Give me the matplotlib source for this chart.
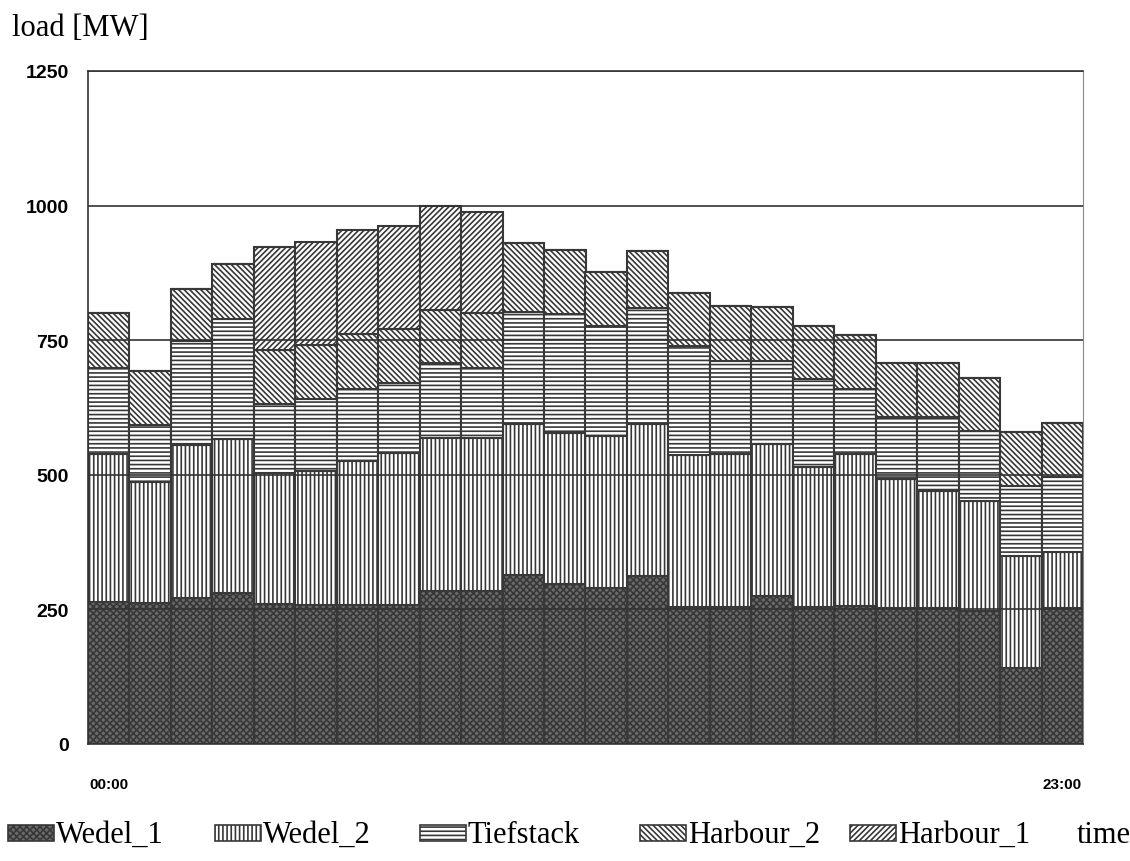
import numpy as np
import matplotlib.pyplot as plt
from matplotlib.patches import Rectangle

# hourly load per plant [MW]
hours = ['00:00', '01:00', '02:00', '03:00', '04:00', '05:00', '06:00', '07:00',
         '08:00', '09:00', '10:00', '11:00', '12:00', '13:00', '14:00', '15:00',
         '16:00', '17:00', '18:00', '19:00', '20:00', '21:00', '22:00', '23:00']
wedel_1 = [263, 262, 271, 280, 260, 258, 258, 258, 284, 284, 314, 297,
           289, 312, 255, 255, 275, 254, 257, 253, 253, 247, 142, 252]
wedel_2 = [275, 225, 284, 287, 244, 249, 267, 283, 285, 285, 280, 281,
           283, 282, 282, 284, 283, 260, 282, 239, 216, 204, 207, 105]
tiefstack = [161, 105, 193, 222, 128, 133, 135, 130, 139, 129, 208, 220,
             204, 215, 202, 172, 153, 164, 121, 115, 139, 130, 130, 138]
harbour_2 = [102, 101, 98, 102, 100, 102, 101, 100, 98, 102, 129, 119,
             101, 106, 98, 102, 100, 99, 99, 101, 100, 99, 100, 101]
harbour_1 = [0, 0, 0, 0, 191, 190, 193, 192, 194, 188, 0, 0,
             0, 0, 0, 0, 0, 0, 0, 0, 0, 0, 0, 0]

names = ['Wedel_1', 'Wedel_2', 'Tiefstack', 'Harbour_2', 'Harbour_1']
hatches = ['xxxxx', '||||', '----', '\\\\\\\\\\\\', '//////']
faces = ['#6a6a6a', 'white', 'white', 'white', 'white']
y_ticks = [0, 250, 500, 750, 1000, 1250]

plt.rcParams['hatch.linewidth'] = 1.2
edge = '#383838'

W, H = 1130, 862
fig = plt.figure(figsize=(W / 100, H / 100), dpi=100)
ax = fig.add_axes([88 / W, 1 - 745 / H, (1083 - 88) / W, (745 - 72) / H])

x = np.arange(len(hours))
bottom = np.zeros(len(hours))
for name, vals, hatch, fc in zip(names, [wedel_1, wedel_2, tiefstack, harbour_2, harbour_1], hatches, faces):
    vals = np.array(vals, dtype=float)
    ax.bar(x, vals, width=1.0, bottom=bottom, color=fc, edgecolor=edge,
           hatch=hatch, linewidth=1.5, zorder=2)
    bottom += vals

for yv in y_ticks:
    ax.axhline(yv, color='#333333', lw=1.2, zorder=3)

ax.set_xlim(-0.5, len(hours) - 0.5)
ax.set_ylim(0, 1250)
ax.set_yticks(y_ticks)
ax.set_yticklabels([str(v) for v in y_ticks], fontsize=14, fontweight='bold',
                   family='Liberation Sans')
ax.set_xticks([0, len(hours) - 1])
ax.set_xticklabels([hours[0], hours[-1]], fontsize=11, fontweight='bold',
                   family='Liberation Sans')
ax.tick_params(axis='y', length=0, pad=14)
ax.tick_params(axis='x', length=0, pad=24)
for side in ['left', 'bottom', 'top']:
    ax.spines[side].set_color('#333333')
    ax.spines[side].set_linewidth(1.2)
ax.spines['right'].set_color('#888888')
ax.spines['right'].set_linewidth(0.8)

fig.text(12 / W, 1 - 36 / H, 'load [MW]', fontsize=22, family='Liberation Serif',
         va='baseline', ha='left')

# legend row along the bottom
leg_left = [8, 215, 420, 640, 850]
for name, hatch, fc, lx in zip(names, hatches, faces, leg_left):
    fig.patches.append(Rectangle((lx / W, 1 - 842 / H), 46 / W, 16 / H,
                                 transform=fig.transFigure, facecolor=fc,
                                 edgecolor=edge, hatch=hatch, linewidth=1.2))
    fig.text((lx + 48) / W, 1 - 843 / H, name, fontsize=22,
             family='Liberation Serif', va='baseline', ha='left')
fig.text(1077 / W, 1 - 843 / H, 'time', fontsize=22, family='Liberation Serif',
         va='baseline', ha='left')

fig.savefig('out.png', dpi=100)
